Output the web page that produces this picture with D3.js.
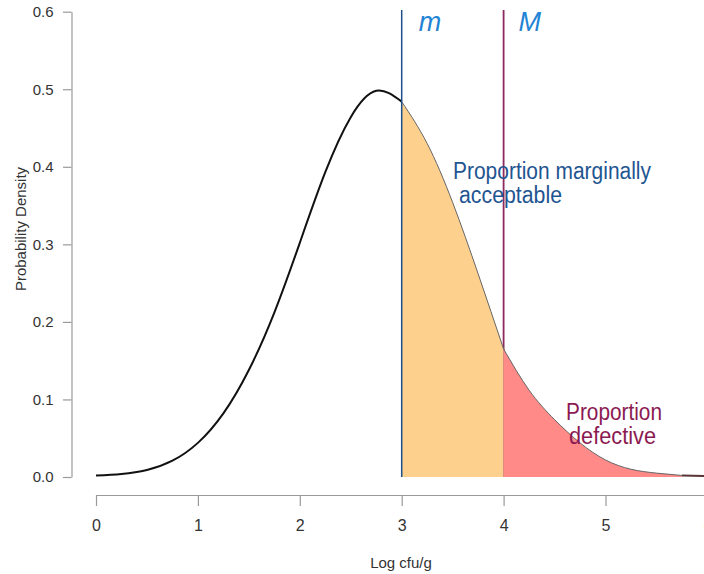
<!DOCTYPE html>
<html>
<head>
<script src="https://d3js.org/d3.v7.min.js"></script>
<style>
  body { margin: 0; background: #fff; }
  svg text { font-family: "Liberation Sans", Arial, sans-serif; }
</style>
</head>
<body>
<svg id="chart" width="704" height="574"></svg>
<script>
// values
const logCfu = [0, 0.25, 0.5, 0.75, 1, 1.25, 1.5, 1.75, 2, 2.25, 2.5, 2.75,
                3, 3.25, 3.5, 3.75, 4, 4.25, 4.5, 4.75, 5, 5.25, 5.5, 5.75, 6];
const density = [0.002, 0.004, 0.009, 0.021, 0.044, 0.082, 0.138, 0.212, 0.302, 0.393, 0.464, 0.498,
                 0.484, 0.430, 0.354, 0.262, 0.165, 0.112, 0.074, 0.044, 0.022, 0.010, 0.005, 0.002, 0.001];
const xTicks = [0, 1, 2, 3, 4, 5, 6];
const yTicks = [0, 0.1, 0.2, 0.3, 0.4, 0.5, 0.6];
const limitLow = 3;   // m
const limitHigh = 4;  // M

const pts = logCfu.map((x, i) => ({x: x, y: density[i]}));

const svg = d3.select('#chart');

const x = d3.scaleLinear().domain([0, 6]).range([96, 707.4]);
const y = d3.scaleLinear().domain([0, 0.6]).range([477, 11.7]);

// axes, R style
const yAxis = svg.append('g')
  .attr('transform', 'translate(71.5,0)')
  .call(d3.axisLeft(y).tickValues(yTicks).tickFormat(d3.format('.1f'))
    .tickSize(8.5).tickSizeOuter(0).tickPadding(9.5));

const xAxis = svg.append('g')
  .attr('transform', 'translate(0,495)')
  .call(d3.axisBottom(x).tickValues(xTicks).tickFormat(d3.format('d'))
    .tickSize(11).tickSizeOuter(0).tickPadding(14));

[yAxis, xAxis].forEach(g => {
  g.select('.domain').attr('stroke', '#9a9a9a').attr('stroke-width', 1.2);
  g.selectAll('.tick line').attr('stroke', '#9a9a9a').attr('stroke-width', 1.2);
  g.selectAll('.tick text').attr('fill', '#333').style('font-size', '15px');
});
xAxis.selectAll('.tick text').style('font-size', '16px');

svg.append('text')
  .attr('x', 401).attr('y', 568)
  .attr('text-anchor', 'middle')
  .attr('fill', '#333')
  .style('font-size', '15px')
  .text('Log cfu/g');

svg.append('text')
  .attr('transform', 'translate(26,229) rotate(-90)')
  .attr('text-anchor', 'middle')
  .attr('fill', '#333')
  .style('font-size', '15px')
  .text('Probability Density');

// M line sits under the shaded tail
svg.append('line')
  .attr('x1', x(limitHigh)).attr('x2', x(limitHigh))
  .attr('y1', 10).attr('y2', y(0))
  .attr('stroke', '#8a2a5f').attr('stroke-width', 1.8);

const area = d3.area()
  .x(d => x(d.x)).y0(y(0)).y1(d => y(d.y))
  .curve(d3.curveNatural);

const line = d3.line()
  .x(d => x(d.x)).y(d => y(d.y))
  .curve(d3.curveNatural);

const midPts = pts.filter(d => d.x >= limitLow && d.x <= limitHigh);
const tailPts = pts.filter(d => d.x >= limitHigh && d.x <= 5.75);

svg.append('path').datum(midPts).attr('d', area).attr('fill', '#fdd08e');
svg.append('path').datum(tailPts).attr('d', area).attr('fill', '#ff8a88');

// curve: heavy on the left, thin edge over the shading
svg.append('path')
  .datum(pts.filter(d => d.x <= limitLow))
  .attr('d', line)
  .attr('fill', 'none')
  .attr('stroke', '#111').attr('stroke-width', 2);

[midPts, tailPts].forEach(seg => {
  svg.append('path')
    .datum(seg)
    .attr('d', line)
    .attr('fill', 'none')
    .attr('stroke', '#666').attr('stroke-width', 1);
});

svg.append('path')
  .datum(pts.filter(d => d.x >= 5.75))
  .attr('d', line)
  .attr('fill', 'none')
  .attr('stroke', '#5a3535').attr('stroke-width', 2);

svg.append('line')
  .attr('x1', x(limitLow)).attr('x2', x(limitLow))
  .attr('y1', 10).attr('y2', y(0))
  .attr('stroke', '#1d4f8a').attr('stroke-width', 1.5);

// labels
svg.append('text')
  .attr('x', x(limitLow) + 17).attr('y', 30.5)
  .attr('fill', '#2383d4')
  .style('font-size', '27px').style('font-style', 'italic')
  .text('m');

svg.append('text')
  .attr('x', x(limitHigh) + 15).attr('y', 30.5)
  .attr('fill', '#2383d4')
  .style('font-size', '27px').style('font-style', 'italic')
  .text('M');

const notes = [
  {t: 'Proportion marginally', x: 453, y: 179, w: 198, c: '#1f5591'},
  {t: 'acceptable', x: 459, y: 203, w: 103, c: '#1f5591'},
  {t: 'Proportion', x: 566, y: 420, w: 96, c: '#8b1a52'},
  {t: 'defective', x: 569, y: 444, w: 87, c: '#8b1a52'}
];

svg.selectAll('.note')
  .data(notes)
  .enter()
  .append('text')
  .attr('class', 'note')
  .attr('x', d => d.x).attr('y', d => d.y)
  .attr('fill', d => d.c)
  .attr('textLength', d => d.w)
  .attr('lengthAdjust', 'spacingAndGlyphs')
  .style('font-size', '23px')
  .text(d => d.t);
</script>
</body>
</html>
